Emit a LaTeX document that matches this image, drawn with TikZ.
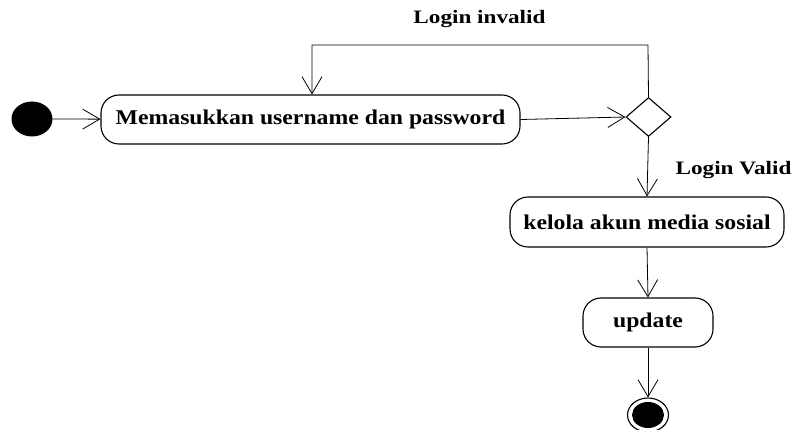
\documentclass[tikz,border=0pt]{standalone}
\usepackage{fontspec}
\setmainfont{Liberation Serif}
\newfontfamily\actfont[FakeStretch=1.13]{Liberation Serif}
\newfontfamily\lblfont[FakeStretch=1.22]{Liberation Serif}
\usetikzlibrary{arrows.meta,shapes.geometric}
\begin{document}
\begin{tikzpicture}[x=1pt,y=-1pt,
  act/.style={draw,line width=1.1pt,rounded corners=18pt,inner sep=0pt,font=\actfont\fontsize{21}{24}\selectfont\bfseries},
  flow/.style={line width=0.8pt,-{Straight Barb[length=17pt,width=20pt,line width=0.8pt]}},
  lbl/.style={font=\lblfont\fontsize{19}{22}\selectfont\bfseries}]
\useasboundingbox (0,0) rectangle (798,430);
\node[ellipse,fill=black,minimum width=41pt,minimum height=35pt,inner sep=0pt] (start) at (32,119) {};
\node[act,minimum width=419pt,minimum height=49pt] (a1) at (310.5,119.5) {Memasukkan username dan password};
\node[diamond,draw,line width=1.1pt,minimum width=45pt,minimum height=39pt,inner sep=0pt] (d) at (648.5,117) {};
\node[act,minimum width=274pt,minimum height=50pt] (a2) at (647,222) {kelola akun media sosial};
\node[act,minimum width=130pt,minimum height=49pt] (a3) at (648,322.5) {update};
\node[ellipse,draw,line width=1.1pt,minimum width=41pt,minimum height=34pt,inner sep=0pt] (end) at (648,415) {};
\node[ellipse,fill=black,minimum width=32pt,minimum height=26pt,inner sep=0pt] (endin) at (end.center) {};
\coordinate (c1) at (648,45);
\coordinate (c2) at (312,45);
\node[lbl] (l1) at (479.5,19) {Login invalid};
\node[lbl] (l2) at (733.5,170) {Login Valid};
\draw[flow] (start) -- (a1);
\draw[flow] (a1.east) -- (d.west);
\draw[flow] (d.north) -- (c1) -- (c2) -- (c2|-a1.north);
\draw[flow] (d.south) -- (a2.north);
\draw[flow] (a2.south) -- (a3.north);
\draw[flow] (a3.south) -- (end.north);
\end{tikzpicture}
\end{document}
